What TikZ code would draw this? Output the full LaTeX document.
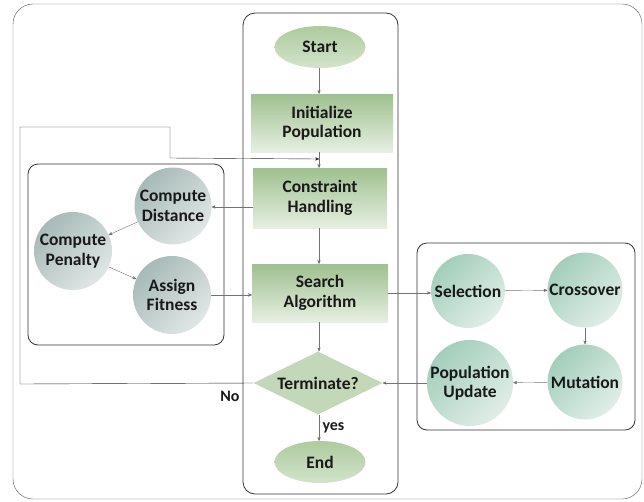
\documentclass[tikz,border=0pt]{standalone}
\usepackage{fontspec}
\setmainfont{Carlito}
\usetikzlibrary{arrows,shapes.geometric}

\definecolor{boxtop}{HTML}{9FC08F}
\definecolor{boxbot}{HTML}{E6EFE2}
\definecolor{ovaltop}{HTML}{ADCB9E}
\definecolor{ovalbot}{HTML}{D3E3CB}
\definecolor{diafill}{HTML}{C3D8B8}
\definecolor{greydark}{HTML}{A6BAB7}
\definecolor{greylight}{HTML}{E0E7E6}
\definecolor{tealdark}{HTML}{A3CEBB}
\definecolor{teallight}{HTML}{E0EEE8}

\begin{document}
\begin{tikzpicture}[x=1pt,y=-1pt,->,>=stealth',
    every node/.style={font=\fontsize{17.5}{19.5}\selectfont\bfseries,text=black!90,align=center},
    process/.style={rectangle,minimum width=136pt,minimum height=58pt,
      top color=boxtop,bottom color=boxbot,draw=none},
    terminal/.style={ellipse,minimum width=91pt,minimum height=42pt,
      top color=ovaltop,bottom color=ovalbot,draw=none},
    decision/.style={diamond,aspect=2,minimum width=129pt,minimum height=63pt,
      inner sep=0pt,fill=diafill},
    grey node/.style={circle,minimum size=77pt,inner sep=0pt,
      top color=greydark,bottom color=greylight,shading angle=45},
    teal node/.style={circle,minimum size=75pt,inner sep=0pt,
      top color=tealdark,bottom color=teallight,shading angle=45},
    group/.style={-,draw=black!80,thick,rounded corners=10pt},
    link/.style={->,draw=black!55,thin}]

\useasboundingbox (0,0) rectangle (644,501);

% frames
\draw[-,draw=black!65,rounded corners=20pt] (13,4) rectangle (642,499);
\draw[group,rounded corners=12pt] (243,13) rectangle (398,494);
\draw[group] (28,164) rectangle (224,345);
\draw[group] (417,243) rectangle (635,430);

% main flow
\node[terminal] (start) at (320,47) {Start};
\node[process,minimum width=142pt] (init) at (322,123) {Initialize\\Population};
\node[process,minimum width=134pt,minimum height=60pt] (constr) at (320,198) {Constraint\\Handling};
\node[process] (search) at (320,293) {Search\\Algorithm};
\node[decision] (term) at (318,383) {Terminate?};
\node[terminal] (end) at (320,462) {End};

% constraint handling
\node[grey node] (dist) at (173,206) {Compute\\Distance};
\node[grey node,minimum size=78pt] (pen) at (73,251) {Compute\\Penalty};
\node[grey node,minimum size=78pt] (fit) at (172,295) {Assign\\Fitness};

% search algorithm
\node[teal node,minimum size=74pt] (sel) at (468,291) {Selection};
\node[teal node] (cross) at (585,290) {Crossover};
\node[teal node] (mut) at (585,382) {Mutation};
\node[teal node,minimum size=86pt] (popu) at (470,383) {Population\\Update};

\coordinate (back) at (319,159);

\draw[link] (start.south -| back) -- (init.north -| back);
\draw[link] (init.south -| back) -- (constr.north -| back);
\draw[link] ([yshift=-9pt]constr.west) -- ([yshift=-9pt]constr.west -| dist.east);
\draw[link] (dist) -- (pen);
\draw[link] (pen) -- (fit);
\draw[link] (fit.east) -- (fit.east -| search.west);
\draw[link] (constr.south -| back) -- (search.north -| back);
\draw[link] (search.south -| back) -- (term.north -| back);
\draw[link] (term.south -| back) -- node[right,font=\fontsize{16}{18}\selectfont\bfseries] {yes} (end.north -| back);
\draw[link] (search.east) -- (search.east -| sel.west);
\draw[link] (sel) -- (cross);
\draw[link] (cross) -- (mut);
\draw[link] (mut) -- (popu);
\draw[link] (popu) -- (term);

% loop back
\draw[link,draw=black!85] (term.west) -- (20,384) -- (20,127) -- (170,127) -- (170,158) -- (back);
\node[font=\fontsize{16}{18}\selectfont\bfseries] (no) at (230,396) {No};

\end{tikzpicture}
\end{document}
